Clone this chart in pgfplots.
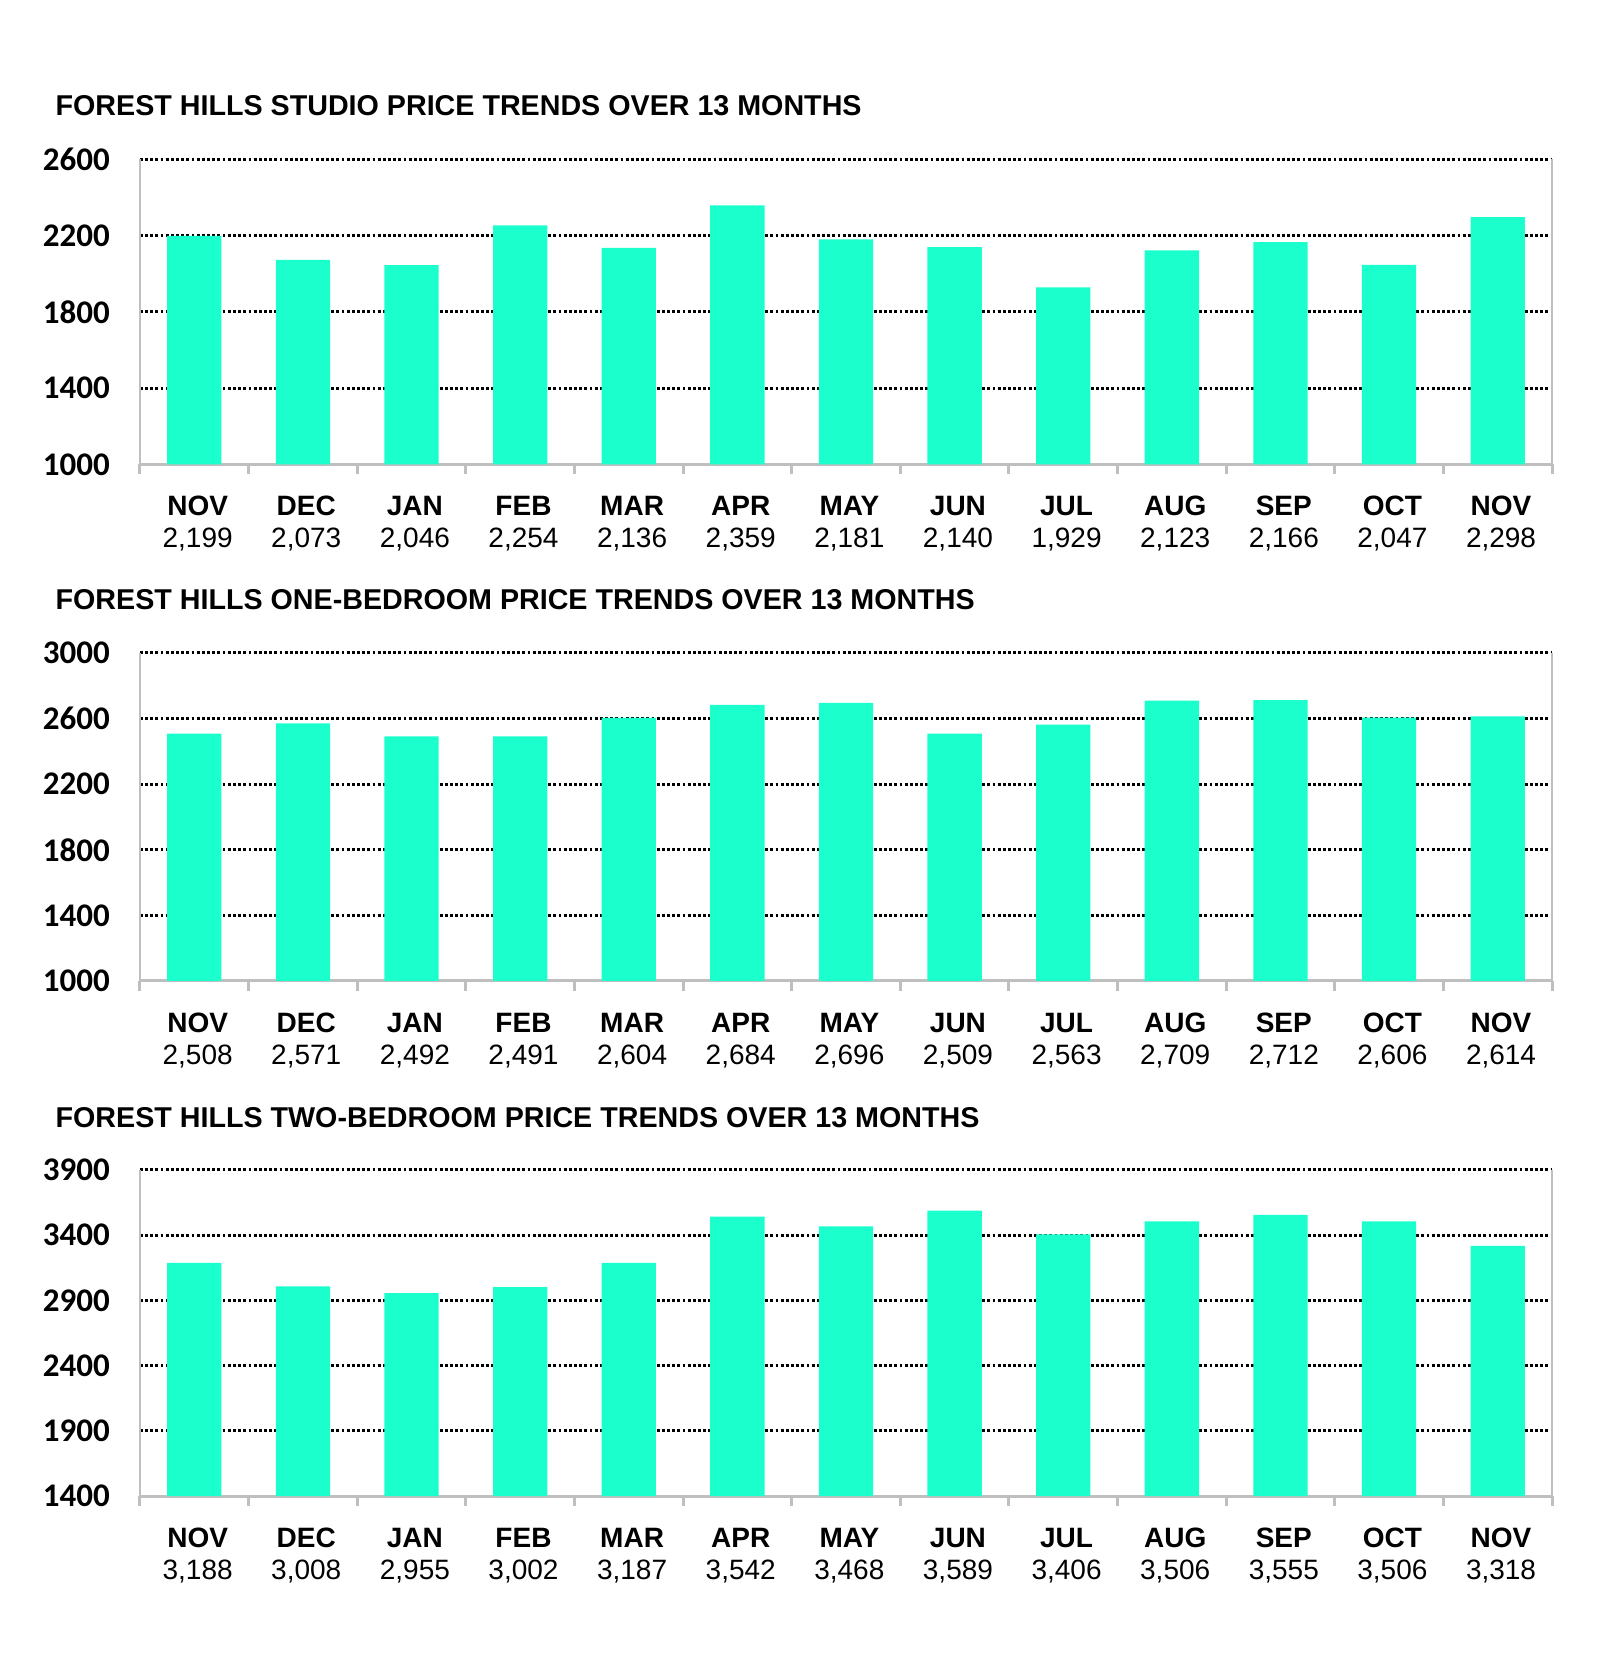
\documentclass[border=0pt]{standalone}
\usepackage{pgfplots}
\pgfplotsset{compat=1.18}
\usepackage{fontspec}
\setmainfont{Liberation Sans}
\newfontfamily\carlito{Carlito}
\definecolor{barc}{RGB}{26,255,204}
\definecolor{axgray}{RGB}{191,191,191}
\pgfplotsset{
  fhbar/.style={
    scale only axis,
    width=423.6pt,
    axis x line=bottom,
    axis y line=box,
    x axis line style={-,draw=axgray,line width=0.9pt},
    y axis line style={-,draw=axgray,line width=0.7pt},
    xmin=-0.5, xmax=12.5,
    xtick={0,...,12},
    major tick length=0pt,
    minor xtick={-0.5,0.5,...,12.5},
    minor tick length=3pt,
    tick align=outside,
    xtick pos=lower,
    ytick pos=left,
    minor x tick style={draw=axgray,line width=0.9pt},
    ymajorgrids,
    major grid style={black,line width=0.9pt,dash pattern=on 0.85pt off 0.7pt},
    extra y tick style={grid=none},
    /pgf/number format/1000 sep={},
    /pgf/number format/assume math mode=true,
    yticklabel style={font=\carlito\bfseries\fontsize{9.9}{11}\selectfont,xshift=-5.5pt},
    xticklabel style={font=\fontsize{8.4}{9.6}\selectfont,align=center,yshift=-6pt,xshift=1pt},
    ybar, bar width=0.5,
    clip=false,
  }
}
\begin{document}
\begin{tikzpicture}
\useasboundingbox (0,0) rectangle (480pt,503.4pt);
% Plot 1
\node[anchor=base west,inner sep=0pt,font=\bfseries\fontsize{8.6}{10}\selectfont] at (16.5pt,468.6pt) {FOREST HILLS STUDIO PRICE TRENDS OVER 13 MONTHS};
\begin{axis}[fhbar, at={(42pt,364.05pt)}, anchor=south west, height=91.5pt,
  ymin=1000, ymax=2600, ytick={1400,1800,2200,2600}, extra y ticks={1000},
  xticklabels={{\textbf{NOV}\\2,199},{\textbf{DEC}\\2,073},{\textbf{JAN}\\2,046},{\textbf{FEB}\\2,254},{\textbf{MAR}\\2,136},{\textbf{APR}\\2,359},{\textbf{MAY}\\2,181},{\textbf{JUN}\\2,140},{\textbf{JUL}\\1,929},{\textbf{AUG}\\2,123},{\textbf{SEP}\\2,166},{\textbf{OCT}\\2,047},{\textbf{NOV}\\2,298}}]
\addplot[fill=barc,draw=none] coordinates {(0,2199) (1,2073) (2,2046) (3,2254) (4,2136) (5,2359) (6,2181) (7,2140) (8,1929) (9,2123) (10,2166) (11,2047) (12,2298)};
\end{axis}
% Plot 2
\node[anchor=base west,inner sep=0pt,font=\bfseries\fontsize{8.6}{10}\selectfont] at (16.5pt,320.4pt) {FOREST HILLS ONE-BEDROOM PRICE TRENDS OVER 13 MONTHS};
\begin{axis}[fhbar, at={(42pt,209.1pt)}, anchor=south west, height=98.4pt,
  ymin=1000, ymax=3000, ytick={1400,1800,2200,2600,3000}, extra y ticks={1000},
  xticklabels={{\textbf{NOV}\\2,508},{\textbf{DEC}\\2,571},{\textbf{JAN}\\2,492},{\textbf{FEB}\\2,491},{\textbf{MAR}\\2,604},{\textbf{APR}\\2,684},{\textbf{MAY}\\2,696},{\textbf{JUN}\\2,509},{\textbf{JUL}\\2,563},{\textbf{AUG}\\2,709},{\textbf{SEP}\\2,712},{\textbf{OCT}\\2,606},{\textbf{NOV}\\2,614}}]
\addplot[fill=barc,draw=none] coordinates {(0,2508) (1,2571) (2,2492) (3,2491) (4,2604) (5,2684) (6,2696) (7,2509) (8,2563) (9,2709) (10,2712) (11,2606) (12,2614)};
\end{axis}
% Plot 3
\node[anchor=base west,inner sep=0pt,font=\bfseries\fontsize{8.6}{10}\selectfont] at (16.5pt,165pt) {FOREST HILLS TWO-BEDROOM PRICE TRENDS OVER 13 MONTHS};
\begin{axis}[fhbar, at={(42pt,54.6pt)}, anchor=south west, height=97.8pt,
  ymin=1400, ymax=3900, ytick={1900,2400,2900,3400,3900}, extra y ticks={1400},
  xticklabels={{\textbf{NOV}\\3,188},{\textbf{DEC}\\3,008},{\textbf{JAN}\\2,955},{\textbf{FEB}\\3,002},{\textbf{MAR}\\3,187},{\textbf{APR}\\3,542},{\textbf{MAY}\\3,468},{\textbf{JUN}\\3,589},{\textbf{JUL}\\3,406},{\textbf{AUG}\\3,506},{\textbf{SEP}\\3,555},{\textbf{OCT}\\3,506},{\textbf{NOV}\\3,318}}]
\addplot[fill=barc,draw=none] coordinates {(0,3188) (1,3008) (2,2955) (3,3002) (4,3187) (5,3542) (6,3468) (7,3589) (8,3406) (9,3506) (10,3555) (11,3506) (12,3318)};
\end{axis}
\end{tikzpicture}
\end{document}
